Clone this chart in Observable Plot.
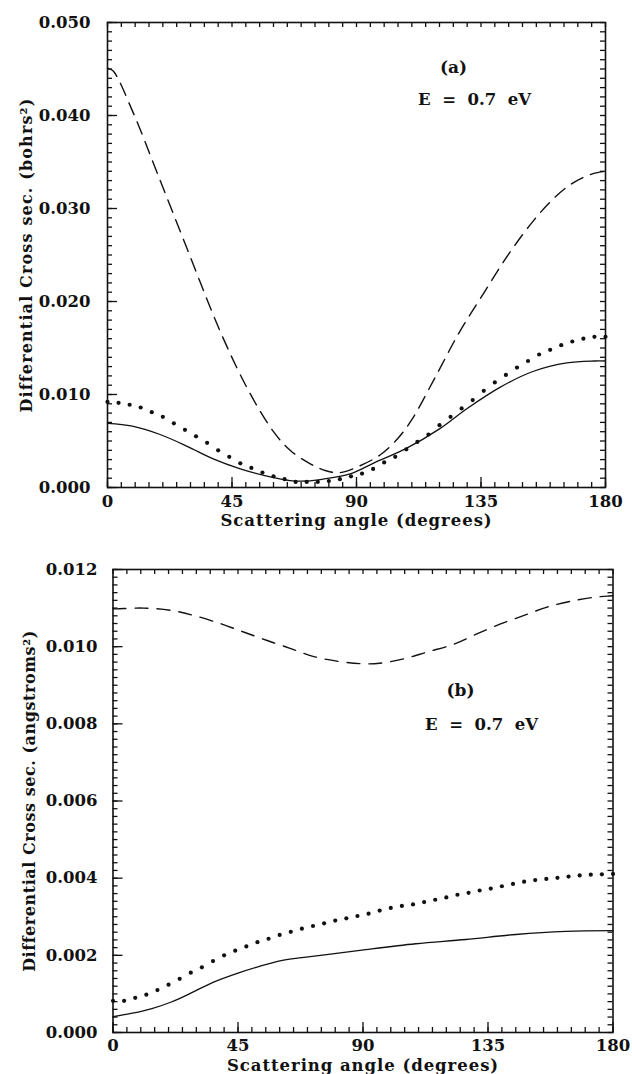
<!DOCTYPE html>
<html><head><meta charset="utf-8">
<script src="https://cdn.jsdelivr.net/npm/d3@7"></script>
<script src="https://cdn.jsdelivr.net/npm/@observablehq/plot@0.6"></script>
<style>
body{margin:0;background:#fff;}
#wrap{position:relative;width:632px;height:1074px;overflow:hidden;}
#wrap svg{position:absolute;left:0;display:block;}
</style></head><body><div id="wrap"></div>
<script>
// ---------- shared axis values ----------
const xMajorTicks = [0, 45, 90, 135, 180];
const xMinorTicks = d3.range(0, 181, 5);
const xTitle = "Scattering angle (degrees)";
const energyNote = "E\u00a0\u00a0=\u00a0\u00a00.7\u00a0\u00a0eV";

// ---------- panel (a): bohrs^2 ----------
const yMajorTicksA = [0, 0.010, 0.020, 0.030, 0.040, 0.050];
const yMinorTicksA = d3.range(0, 51).map(i => i / 1000);

const dashedA_angle = [0, 2, 9, 18, 29, 41, 51, 60, 66, 73, 79, 84, 91, 99, 105, 110, 118, 127, 136, 145, 154, 161, 168, 175, 180];
const dashedA_value = [0.0451, 0.0448, 0.0405, 0.0338, 0.0255, 0.0166, 0.0104, 0.0060, 0.0040, 0.0026, 0.0018, 0.0016, 0.0023, 0.0036, 0.0053, 0.0073, 0.0116, 0.0166, 0.0209, 0.0251, 0.0287, 0.0310, 0.0327, 0.0337, 0.0340];

const solidA_angle = [0, 9, 19, 29, 38, 48, 58, 66, 72, 78, 88, 96, 108, 120, 130, 142, 154, 166, 176, 180];
const solidA_value = [0.0069, 0.0066, 0.0057, 0.0044, 0.0031, 0.0020, 0.0012, 0.00075, 0.0007, 0.0009, 0.0015, 0.0026, 0.0042, 0.0063, 0.0085, 0.0108, 0.0125, 0.0134, 0.0136, 0.0136];

const dottedA_angle = [0, 4, 8, 12, 16, 20, 24, 28, 32, 36, 40, 44, 48, 52, 56, 60, 64, 68, 72, 76, 80, 84, 88, 92, 96, 100, 104, 108, 112, 116, 120, 124, 128, 132, 136, 140, 144, 148, 152, 156, 160, 164, 168, 172, 176, 180];
const dottedA_value = [0.0092, 0.0091, 0.0089, 0.0086, 0.0081, 0.0076, 0.0069, 0.0062, 0.0055, 0.0048, 0.0040, 0.0033, 0.0026, 0.0021, 0.0016, 0.0012, 0.0009, 0.0006, 0.0006, 0.0006, 0.0007, 0.0009, 0.0012, 0.0015, 0.0020, 0.0027, 0.0033, 0.0041, 0.0049, 0.0057, 0.0067, 0.0076, 0.0085, 0.0094, 0.0104, 0.0113, 0.0121, 0.0129, 0.0136, 0.0143, 0.0148, 0.0153, 0.0157, 0.0160, 0.0162, 0.0162];

// ---------- panel (b): angstroms^2 ----------
const yMajorTicksB = [0, 0.002, 0.004, 0.006, 0.008, 0.010, 0.012];
const yMinorTicksB = d3.range(0, 61).map(i => i / 5000);

const dashedB_angle = [0, 1.5, 11, 21, 29, 39, 47, 55.5, 64, 72, 81, 89, 96, 105, 113, 123, 131, 139.5, 148, 156, 165, 173, 178, 180];
const dashedB_value = [0.01098, 0.01098, 0.0110, 0.01094, 0.01081, 0.01059, 0.01038, 0.01016, 0.00995, 0.00975, 0.00962, 0.00956, 0.00957, 0.00969, 0.00986, 0.01007, 0.01033, 0.01059, 0.01081, 0.01102, 0.01118, 0.01128, 0.01131, 0.01132];

const solidB_angle = [0, 7, 14, 21, 28, 36, 45, 53, 61, 68, 79, 91, 109, 127, 145, 163, 180];
const solidB_value = [0.00041, 0.0005, 0.00062, 0.00079, 0.00102, 0.0013, 0.00154, 0.00172, 0.00187, 0.00194, 0.00204, 0.00215, 0.0023, 0.00241, 0.00254, 0.00262, 0.00264];

const dottedB_angle = dottedA_angle;
const dottedB_value = [0.00082, 0.00082, 0.0009, 0.00098, 0.0011, 0.00124, 0.00139, 0.00155, 0.00169, 0.00185, 0.0020, 0.00212, 0.00223, 0.00234, 0.00243, 0.00253, 0.00261, 0.00269, 0.00276, 0.00283, 0.0029, 0.00296, 0.00302, 0.00308, 0.00316, 0.00323, 0.00328, 0.00332, 0.00338, 0.00344, 0.0035, 0.00357, 0.00362, 0.00368, 0.00373, 0.00379, 0.00385, 0.00391, 0.00395, 0.00398, 0.00401, 0.00404, 0.00407, 0.00409, 0.0041, 0.00411];

const zip = (a, v) => a.map((x, i) => ({angle: x, value: v[i]}));

function panel(cfg) {
  const W = cfg.width - cfg.marginLeft - cfg.marginRight;
  const H = cfg.height - cfg.marginTop - cfg.marginBottom;
  const ink = "#111";
  const tickMarks = (vals, len, dir) => {
    if (dir === "bottom") return Plot.tickX(vals, {x: d => d, insetTop: H - len, stroke: ink, strokeWidth: 1.3});
    if (dir === "top") return Plot.tickX(vals, {x: d => d, insetBottom: H - len, stroke: ink, strokeWidth: 1.3});
    if (dir === "left") return Plot.tickY(vals, {y: d => d, insetRight: W - len, stroke: ink, strokeWidth: 1.3});
    return Plot.tickY(vals, {y: d => d, insetLeft: W - len, stroke: ink, strokeWidth: 1.3});
  };
  const svg = Plot.plot({
    width: cfg.width, height: cfg.height,
    marginLeft: cfg.marginLeft, marginRight: cfg.marginRight,
    marginTop: cfg.marginTop, marginBottom: cfg.marginBottom,
    style: {fontFamily: "'DejaVu Serif', serif", fontWeight: "bold", fontSize: "16.5px", color: ink, background: "transparent"},
    x: {domain: [0, 180], ticks: xMajorTicks, tickFormat: d => d, tickSize: 0, tickPadding: cfg.xPad, label: null},
    y: {domain: cfg.yDomain, ticks: cfg.yMajor, tickFormat: d3.format(".3f"), tickSize: 0, tickPadding: cfg.yPad, label: null},
    marks: [
      tickMarks(xMinorTicks, 5, "bottom"),
      tickMarks(xMajorTicks, 10, "bottom"),
      tickMarks(xMinorTicks, 5, "top"),
      tickMarks(cfg.yMinor, 5, "left"),
      tickMarks(cfg.yMajor, 10, "left"),
      tickMarks(cfg.yMinor, 5, "right"),
      Plot.line(zip(cfg.dashed[0], cfg.dashed[1]), {x: "angle", y: "value", curve: "catmull-rom", stroke: ink, strokeWidth: 1.4, strokeDasharray: cfg.dash}),
      Plot.line(zip(cfg.solid[0], cfg.solid[1]), {x: "angle", y: "value", curve: "catmull-rom", stroke: ink, strokeWidth: 1.3}),
      Plot.dot(zip(cfg.dotted[0], cfg.dotted[1]), {x: "angle", y: "value", r: 2.1, fill: ink, stroke: null}),
      Plot.frame({stroke: ink, strokeWidth: 1.6}),
      Plot.text([cfg.panelLabel], {frameAnchor: "top-left", dx: cfg.pl[0], dy: cfg.pl[1], fontSize: 17, textAnchor: "middle"}),
      Plot.text([energyNote], {frameAnchor: "top-left", dx: cfg.el[0], dy: cfg.el[1], fontSize: 16.5, textAnchor: "middle"}),
      Plot.text([xTitle], {frameAnchor: "bottom", dy: cfg.xl, lineAnchor: "middle", fontSize: 16.5}),
      Plot.text([cfg.yLabel], {frameAnchor: "left", dx: cfg.yl, rotate: -90, textAnchor: "middle", lineAnchor: "middle", fontSize: 16})
    ]
  });
  d3.select(svg).selectAll("text").each(function () {
    const t = this.textContent;
    if (t === xTitle) this.style.letterSpacing = "0.95px";
    else if (t === cfg.yLabel) this.style.letterSpacing = cfg.ySpacing;
  });
  return svg;
}

const wrap = document.getElementById("wrap");

const a = panel({
  width: 632, height: 540, marginLeft: 107, marginRight: 27, marginTop: 22, marginBottom: 53,
  yDomain: [0, 0.05], yMajor: yMajorTicksA, yMinor: yMinorTicksA,
  dashed: [dashedA_angle, dashedA_value], solid: [solidA_angle, solidA_value], dotted: [dottedA_angle, dottedA_value],
  dash: "13,8", xPad: 8, yPad: 17, xl: 33, yl: -81, ySpacing: "1.15px",
  panelLabel: "(a)", pl: [346, 38], el: [367, 71],
  yLabel: "Differential Cross sec. (bohrs\u00b2)"
});
a.style.top = "0px";
wrap.appendChild(a);

const b = panel({
  width: 632, height: 534, marginLeft: 112.5, marginRight: 19.5, marginTop: 29, marginBottom: 42,
  yDomain: [0, 0.012], yMajor: yMajorTicksB, yMinor: yMinorTicksB,
  dashed: [dashedB_angle, dashedB_value], solid: [solidB_angle, solidB_value], dotted: [dottedB_angle, dottedB_value],
  dash: "13,9", xPad: 7, yPad: 15.5, xl: 33, yl: -83.5, ySpacing: "0.55px",
  panelLabel: "(b)", pl: [347.5, 114], el: [368.5, 149],
  yLabel: "Differential Cross sec. (angstroms\u00b2)"
});
b.style.top = "540px";
wrap.appendChild(b);
</script></body></html>
